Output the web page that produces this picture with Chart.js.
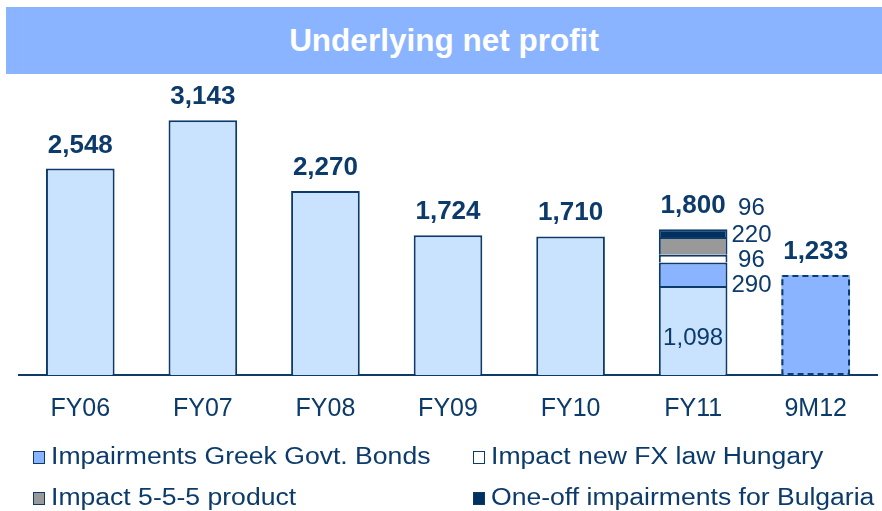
<!DOCTYPE html>
<html>
<head>
<meta charset="utf-8">
<script src="https://cdn.jsdelivr.net/npm/chart.js@4.4.1/dist/chart.umd.min.js"></script>
<style>
  html, body { margin: 0; padding: 0; background: #fff; }
  #wrap { position: relative; width: 882px; height: 511px; overflow: hidden; font-family: "Liberation Sans", Arial, sans-serif; }
  #banner { position: absolute; left: 6px; top: 7px; width: 876px; height: 67px; background: #8AB4FF;
            color: #fff; font-weight: bold; font-size: 31.5px; line-height: 67px; text-align: center; }
  #myChart { position: absolute; left: 0; top: 0; }
  .leg { position: absolute; font-size: 23px; color: #0C3B6B; line-height: 26px; white-space: nowrap; }
  .leg span.box { display: inline-block; width: 10px; height: 11px; border: 1.5px solid #0C3B6B; margin-right: 6px; vertical-align: 0px; }
  .leg span.txt { display: inline-block; transform: scaleX(1.155); transform-origin: left center; }
</style>
</head>
<body>
<div id="wrap">
  <div id="banner">Underlying net profit</div>
  <canvas id="myChart" width="882" height="511"></canvas>
  <div id="legend"></div>
</div>
<script>
var categories = ['FY06', 'FY07', 'FY08', 'FY09', 'FY10', 'FY11', '9M12']
var underlying = [2548, 3143, 2270, 1724, 1710, 1098, null]
var greekBonds = [null, null, null, null, null, 290, null]
var fxLawHungary = [null, null, null, null, null, 96, null]
var product555 = [null, null, null, null, null, 220, null]
var bulgaria = [null, null, null, null, null, 96, null]
var nineMonths = [null, null, null, null, null, null, 1233]

var legendNames = ['Impairments Greek Govt. Bonds', 'Impact new FX law Hungary', 'Impact 5-5-5 product', 'One-off impairments for Bulgaria']

var navy = '#0C3B6B'
var fmt = function(v){ return v.toLocaleString('en-US') }

var datasets = [
  {label: 'Underlying', data: underlying, backgroundColor: '#C9E2FE'},
  {label: legendNames[0], data: greekBonds, backgroundColor: '#8AB4FF', side: true},
  {label: legendNames[1], data: fxLawHungary, backgroundColor: '#FFFFFF', side: true},
  {label: legendNames[2], data: product555, backgroundColor: '#999999', side: true},
  {label: legendNames[3], data: bulgaria, backgroundColor: '#00305F', side: true},
  {label: '9M12', data: nineMonths, backgroundColor: '#8AB4FF', borderWidth: 0, dashed: true}
]
datasets.forEach(function(d){
  d.borderColor = navy
  if (d.borderWidth === undefined) d.borderWidth = 2
  d.barPercentage = 0.56
  d.categoryPercentage = 1
  d.stack = 'all'
})

// small nudges so the FY11 side labels don't collide
var sideNudge = [11, 2, -10, -25]

var labelPlugin = {
  id: 'labels',
  afterDatasetsDraw: function(chart){
    var ctx = chart.ctx
    ctx.save()
    // dashed outline for 9M12
    chart.data.datasets.forEach(function(ds, di){
      if (!ds.dashed) return
      chart.getDatasetMeta(di).data.forEach(function(el, i){
        if (ds.data[i] == null) return
        var p = el.getProps(['x', 'y', 'width', 'base'], true)
        ctx.strokeStyle = navy
        ctx.lineWidth = 2
        ctx.setLineDash([6, 4])
        ctx.strokeRect(p.x - p.width/2 + 1, p.y + 1, p.width - 2, p.base - p.y - 2)
        ctx.setLineDash([])
      })
    })
    ctx.fillStyle = navy
    for (var i = 0; i < categories.length; i++){
      var total = 0, topY = null, count = 0, cx = 0
      chart.data.datasets.forEach(function(ds, di){
        var v = ds.data[i]
        if (v == null) return
        var el = chart.getDatasetMeta(di).data[i]
        total += v
        count++
        cx = el.x
        if (topY === null || el.y < topY) topY = el.y
      })
      ctx.font = 'bold 26px "Liberation Sans", Arial, sans-serif'
      ctx.textAlign = 'center'
      ctx.textBaseline = 'alphabetic'
      ctx.fillText(fmt(total), cx, topY - 16)
      if (count > 1){
        ctx.font = '24px "Liberation Sans", Arial, sans-serif'
        var k = 0
        chart.data.datasets.forEach(function(ds, di){
          var v = ds.data[i]
          if (v == null) return
          var el = chart.getDatasetMeta(di).data[i]
          var p = el.getProps(['x', 'y', 'width', 'base'], true)
          var mid = (p.y + p.base) / 2
          ctx.textAlign = 'center'
          ctx.textBaseline = 'middle'
          if (!ds.side){
            ctx.fillText(fmt(v), p.x, mid + 8)
          } else {
            ctx.fillText(fmt(v), p.x + p.width/2 + 24, mid + sideNudge[k])
            k++
          }
        })
      }
    }
    ctx.restore()
  }
}

var clusterChart = new Chart(document.getElementById('myChart'), {
  type: 'bar',
  data: {labels: categories, datasets: datasets},
  plugins: [labelPlugin],
  options: {
    responsive: false,
    animation: false,
    layout: {padding: {top: 93, left: 19, right: 5, bottom: 68}},
    plugins: {legend: {display: false}, tooltip: {enabled: false}},
    scales: {
      x: {
        stacked: true,
        grid: {display: false, drawTicks: false},
        border: {display: true, color: navy, width: 2},
        ticks: {color: navy, padding: 19, font: {family: '"Liberation Sans", Arial, sans-serif', size: 25}}
      },
      y: {stacked: true, display: false, min: 0, max: 3480}
    }
  }
})

// legend, two columns
var legendColors = [datasets[1].backgroundColor, datasets[2].backgroundColor, datasets[3].backgroundColor, datasets[4].backgroundColor]
var legPos = [[33, 443], [473, 443], [33, 484], [473, 484]]
var legHtml = ''
for (var j = 0; j < legendNames.length; j++){
  legHtml += '<div class="leg" style="left:' + legPos[j][0] + 'px;top:' + legPos[j][1] + 'px">' +
    '<span class="box" style="background:' + legendColors[j] + '"></span><span class="txt">' + legendNames[j] + '</span></div>'
}
document.getElementById('legend').innerHTML = legHtml
</script>
</body>
</html>
